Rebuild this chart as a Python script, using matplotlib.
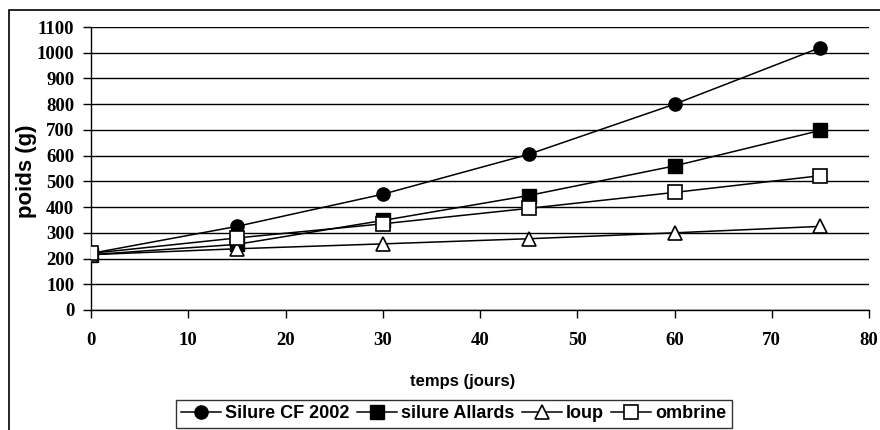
import numpy as np
import matplotlib.pyplot as plt
from matplotlib.patches import Rectangle

# données
jours = [0, 15, 30, 45, 60, 75]
silure_cf = [220, 325, 450, 605, 800, 1020]
silure_allards = [215, 255, 348, 445, 560, 698]
loup = [215, 238, 257, 277, 300, 325]
ombrine = [220, 280, 335, 395, 457, 522]

xticks = [0, 10, 20, 30, 40, 50, 60, 70, 80]
yticks = list(range(0, 1101, 100))

fig = plt.figure(figsize=(8.8, 4.3), dpi=100)
ax = fig.add_axes([91/880, 1-310/430, (869-91)/880, (310-27)/430])

# cadre extérieur
fig.patches.append(Rectangle((9/880, -0.05), 1.0, 1-10/430+0.05, transform=fig.transFigure,
                             fill=False, edgecolor='black', linewidth=1.2))

for y in yticks:
    ax.axhline(y, color='black', linewidth=1.0, zorder=1)

ms = 9.5
ax.plot(jours, silure_cf, color='black', lw=1.1, marker='o', ms=ms, mfc='black', mec='black', label='Silure CF 2002', zorder=3)
ax.plot(jours, silure_allards, color='black', lw=1.1, marker='s', ms=ms, mfc='black', mec='black', label='silure Allards', zorder=3)
ax.plot(jours, loup, color='black', lw=1.1, marker='^', ms=ms+1, mfc='white', mec='black', mew=1.2, label='loup', zorder=3)
ax.plot(jours, ombrine, color='black', lw=1.1, marker='s', ms=ms, mfc='white', mec='black', mew=1.2, label='ombrine', zorder=3)

ax.set_xlim(0, 80)
ax.set_ylim(0, 1100)
ax.set_xticks(xticks)
ax.set_yticks(yticks)
for s in ['top', 'right']:
    ax.spines[s].set_visible(False)
ax.spines['left'].set_linewidth(1.0)
ax.spines['bottom'].set_linewidth(1.0)
ax.tick_params(axis='x', direction='out', length=6, width=1, pad=10)
ax.tick_params(axis='y', direction='out', length=6, width=1, pad=6)
for lab in ax.get_xticklabels() + ax.get_yticklabels():
    lab.set_fontfamily('Liberation Serif')
    lab.set_fontweight('bold')
    lab.set_fontsize(13.5)

ax.set_xlabel('temps (jours)', fontfamily='Liberation Sans', fontweight='bold', fontsize=12)
ax.set_ylabel('poids (g)', fontfamily='Liberation Sans', fontweight='bold', fontsize=16)
ax.xaxis.set_label_coords((463-91)/(869-91), -(374-310)/(310-27))
ax.yaxis.set_label_coords(-(91-37)/(869-91), 0.49)

leg = fig.legend(loc='center', bbox_to_anchor=(454/880, 1-414/430), ncol=4, frameon=True, fancybox=False,
                 edgecolor='black', handlelength=2.2, columnspacing=0.4, handletextpad=0.25,
                 borderpad=0.3, prop={'family': 'Liberation Sans', 'weight': 'bold', 'size': 13})
leg.get_frame().set_linewidth(1.0)

fig.savefig('out.png', dpi=100)
